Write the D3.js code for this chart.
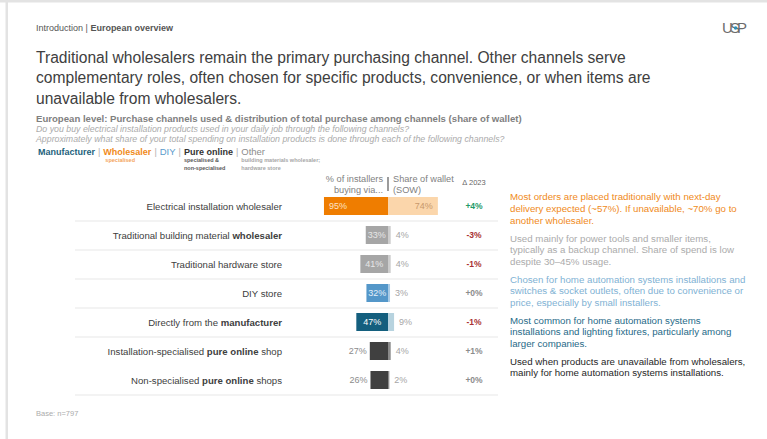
<!DOCTYPE html>
<html>
<head>
<meta charset="utf-8">
<script src="https://cdn.jsdelivr.net/npm/d3@7/dist/d3.min.js"></script>
<style>
  html, body { margin: 0; padding: 0; background: #fff; }
  svg { display: block; font-family: "Liberation Sans", Arial, sans-serif; }
</style>
</head>
<body>
<svg id="chart" width="767" height="439"></svg>
<script>
// Purchase channels: share of installers buying via each channel and share of wallet
const channels = [
  ["Electrical installation wholesaler"],
  ["Traditional building material ", "wholesaler"],
  ["Traditional hardware store"],
  ["DIY store"],
  ["Directly from the ", "manufacturer"],
  ["Installation-specialised ", "pure online", " shop"],
  ["Non-specialised ", "pure online", " shops"]
];
const channelType = ["wholesaler", "other", "other", "diy", "manufacturer", "online", "online"];
const installersPct = [95, 33, 41, 32, 47, 27, 26];
const sowPct = [74, 4, 4, 3, 9, 4, 2];
const delta2023 = ["+4%", "-3%", "-1%", "+0%", "-1%", "+1%", "+0%"];
const notes = [
  ["Most orders are placed traditionally with next-day", "delivery expected (~57%). If unavailable, ~70% go to", "another wholesaler."],
  ["Used mainly for power tools and smaller items,", "typically as a backup channel. Share of spend is low", "despite 30–45% usage."],
  ["Chosen for home automation systems installations and", "switches & socket outlets, often due to convenience or", "price, especially by small installers."],
  ["Most common for home automation systems", "installations and lighting fixtures, particularly among", "larger companies."],
  ["Used when products are unavailable from wholesalers,", "mainly for home automation systems installations."]
];
const noteType = ["wholesaler", "other", "diy", "manufacturer", "online"];
const legendItems = [
  { key: "manufacturer", label: "Manufacturer", sub: [] },
  { key: "wholesaler", label: "Wholesaler", sub: ["specialised"] },
  { key: "diy", label: "DIY", sub: [] },
  { key: "online", label: "Pure online", sub: ["specialised &", "non-specialised"] },
  { key: "other", label: "Other", sub: ["building materials wholesaler;", "hardware store"] }
];

const palette = {
  wholesaler:   { use: "#ef7d00", sow: "#fbd6ab", useText: "#fde3c6", sowText: "#c8996b", legend: "#f08a1a", note: "#f08a1a" },
  other:        { use: "#a6a6a6", sow: "#cdcdcd", useText: "#e6e6e6", sowText: "#a6a6a6", legend: "#8c8c8c", note: "#ababab" },
  diy:          { use: "#5497c9", sow: "#a9cbe6", useText: "#e4f0f9", sowText: "#a6a6a6", legend: "#5b9bcb", note: "#7fb2d4" },
  manufacturer: { use: "#145f7e", sow: "#b7d3df", useText: "#ffffff", sowText: "#a6a6a6", legend: "#1d5f7c", note: "#1f6a88" },
  online:       { use: "#404040", sow: "#8a8a8a", useText: "#8c8c8c", sowText: "#a6a6a6", legend: "#333333", note: "#262626" }
};
const deltaColor = d => d === "+0%" || d === "+1%" ? "#8c8c8c" : d.startsWith("+") ? "#1f9a67" : "#a83232";

const svg = d3.select("#chart");

// slide frame
svg.append("rect").attr("x", 0).attr("y", 0).attr("width", 767).attr("height", 2.5).attr("fill", "#e3e3e3");
svg.append("rect").attr("x", 5.5).attr("y", 0).attr("width", 2.5).attr("height", 439).attr("fill", "#e3e3e3");

// breadcrumb
const crumb = svg.append("text").attr("x", 36).attr("y", 31).attr("font-size", 9).attr("fill", "#555");
crumb.append("tspan").text("Introduction | ");
crumb.append("tspan").attr("font-weight", "bold").text("European overview");

// logo
const logo = svg.append("g").attr("transform", "translate(722,33)");
logo.append("text").attr("x", 0).attr("y", 0).attr("font-size", 15).attr("fill", "#6b6b6b")
  .attr("letter-spacing", -1).attr("textLength", 24).text("USP");
logo.append("circle").attr("cx", 13.6).attr("cy", -5).attr("r", 1.8).attr("fill", "#2f8fb8");

// headline
const headline = [
  "Traditional wholesalers remain the primary purchasing channel. Other channels serve",
  "complementary roles, often chosen for specific products, convenience, or when items are",
  "unavailable from wholesalers."
];
svg.append("g").selectAll("text").data(headline).join("text")
  .attr("x", 36).attr("y", (d, i) => 62.5 + i * 20.8)
  .attr("font-size", 15.6).attr("fill", "#404040").text(d => d);

// subtitle and questions
svg.append("text").attr("x", 36).attr("y", 121.5).attr("font-size", 9.6).attr("font-weight", "bold")
  .attr("fill", "#7f7f7f")
  .text("European level: Purchase channels used & distribution of total purchase among channels (share of wallet)");
const questions = [
  "Do you buy electrical installation products used in your daily job through the following channels?",
  "Approximately what share of your total spending on installation products is done through each of the following channels?"
];
svg.append("g").selectAll("text").data(questions).join("text")
  .attr("x", 36).attr("y", (d, i) => 132 + i * 9.5)
  .attr("font-size", 8.8).attr("font-style", "italic").attr("fill", "#ababab").text(d => d);

// legend
const legend = svg.append("g");
let lx = 38;
legendItems.forEach((item, i) => {
  if (i > 0) {
    const sep = legend.append("text").attr("x", lx).attr("y", 155).attr("font-size", 9).attr("fill", "#b0b0b0").text("|");
    lx += sep.node().getComputedTextLength() + 3;
  }
  const t = legend.append("text").attr("x", lx).attr("y", 155).attr("font-size", 9)
    .attr("font-weight", "bold").attr("fill", palette[item.key].legend).text(item.label);
  if (item.key === "diy" || item.key === "other") t.attr("font-weight", "normal").attr("font-size", 9.5);
  legend.selectAll(null).data(item.sub).join("text")
    .attr("x", item.key === "wholesaler" ? lx + 2 : lx).attr("y", (d, j) => 162 + j * 7.5)
    .attr("font-size", 5.5).attr("font-weight", "bold")
    .attr("fill", item.key === "wholesaler" ? "#f4a45a" : item.key === "online" ? "#595959" : "#a6a6a6")
    .text(d => d);
  lx += t.node().getComputedTextLength() + 3;
});

// scales
const divider = 388;
const pct = d3.scaleLinear().domain([0, 100]).range([0, 67.4]);
const rows = d3.scaleBand().domain(d3.range(channels.length)).range([191.5, 394.5]);
const barH = 18;

// column headers
const hdr = svg.append("g").attr("font-size", 9.2).attr("fill", "#7f7f7f");
hdr.append("text").attr("x", divider - 5).attr("y", 182).attr("text-anchor", "end").text("% of installers");
hdr.append("text").attr("x", divider - 5).attr("y", 193).attr("text-anchor", "end").text("buying via...");
hdr.append("text").attr("x", divider + 5).attr("y", 182).text("Share of wallet");
hdr.append("text").attr("x", divider + 5).attr("y", 193).text("(SOW)");
svg.append("line").attr("x1", divider).attr("x2", divider).attr("y1", 177).attr("y2", 191)
  .attr("stroke", "#595959").attr("stroke-width", 1.2);
svg.append("text").attr("x", 474).attr("y", 184.5).attr("text-anchor", "middle")
  .attr("font-size", 7.5).attr("fill", "#666").text("Δ 2023");

// row separators (the two pure online rows share one block)
const sepRows = d3.range(channels.length).filter(i => i !== 5);
svg.append("g").selectAll("line").data(sepRows).join("line")
  .attr("x1", 75).attr("x2", 498)
  .attr("y1", i => rows(i) + rows.bandwidth() + 0.5).attr("y2", i => rows(i) + rows.bandwidth() + 0.5)
  .attr("stroke", "#e8e8e8").attr("stroke-width", 1.2);

// row labels
const labels = svg.append("g").selectAll("text").data(channels).join("text")
  .attr("x", 282).attr("y", (d, i) => rows(i) + rows.bandwidth() / 2 + 3.5)
  .attr("text-anchor", "end").attr("font-size", 9.6).attr("fill", "#404040");
labels.each(function (parts) {
  const t = d3.select(this);
  parts.forEach((p, j) => t.append("tspan").attr("font-weight", j === 1 ? "bold" : "normal").text(p));
});

const rowG = svg.append("g").selectAll("g").data(d3.range(channels.length)).join("g")
  .attr("transform", i => `translate(0,${rows(i) + rows.bandwidth() / 2})`);

// share of wallet bars (right of divider)
rowG.append("rect")
  .attr("x", divider).attr("y", -barH / 2)
  .attr("width", i => pct(sowPct[i])).attr("height", barH)
  .attr("fill", i => palette[channelType[i]].sow);

// installers bars (left of divider)
rowG.append("rect")
  .attr("x", i => divider - pct(installersPct[i])).attr("y", -barH / 2)
  .attr("width", i => pct(installersPct[i])).attr("height", barH)
  .attr("fill", i => palette[channelType[i]].use);

// installers values
rowG.append("text")
  .attr("y", 3.3).attr("font-size", 9)
  .each(function (i) {
    const t = d3.select(this);
    const w = pct(installersPct[i]);
    const inside = channelType[i] !== "online";
    if (inside && w > 40) {
      t.attr("x", divider - w + 5).attr("text-anchor", "start");
    } else if (inside) {
      t.attr("x", divider - w / 2).attr("text-anchor", "middle");
    } else {
      t.attr("x", divider - w - 3).attr("text-anchor", "end");
    }
    t.attr("fill", palette[channelType[i]].useText).text(installersPct[i] + "%");
  });

// share of wallet values
rowG.append("text")
  .attr("y", 3.3).attr("font-size", 9)
  .each(function (i) {
    const t = d3.select(this);
    const w = pct(sowPct[i]);
    if (w > 30) {
      t.attr("x", divider + w - 5).attr("text-anchor", "end");
    } else {
      t.attr("x", divider + w + 5).attr("text-anchor", "start");
    }
    t.attr("fill", palette[channelType[i]].sowText).text(sowPct[i] + "%");
  });

// change vs 2023
rowG.append("text")
  .attr("x", 474).attr("y", 3.3).attr("text-anchor", "middle")
  .attr("font-size", 8.5).attr("font-weight", "bold")
  .attr("fill", i => deltaColor(delta2023[i])).text(i => delta2023[i]);

// commentary
const noteTop = [200, 241.5, 282.5, 323.5, 364.5];
const notesG = svg.append("g").selectAll("text").data(notes).join("text")
  .attr("x", 510).attr("font-size", 9.7)
  .attr("fill", (d, i) => palette[noteType[i]].note);
notesG.each(function (lines, i) {
  d3.select(this).selectAll("tspan").data(lines).join("tspan")
    .attr("x", 510).attr("y", (d, j) => noteTop[i] + j * 11.8).text(d => d);
});

// base
svg.append("text").attr("x", 36).attr("y", 416).attr("font-size", 7.5).attr("fill", "#ababab").text("Base: n=797");
</script>
</body>
</html>
